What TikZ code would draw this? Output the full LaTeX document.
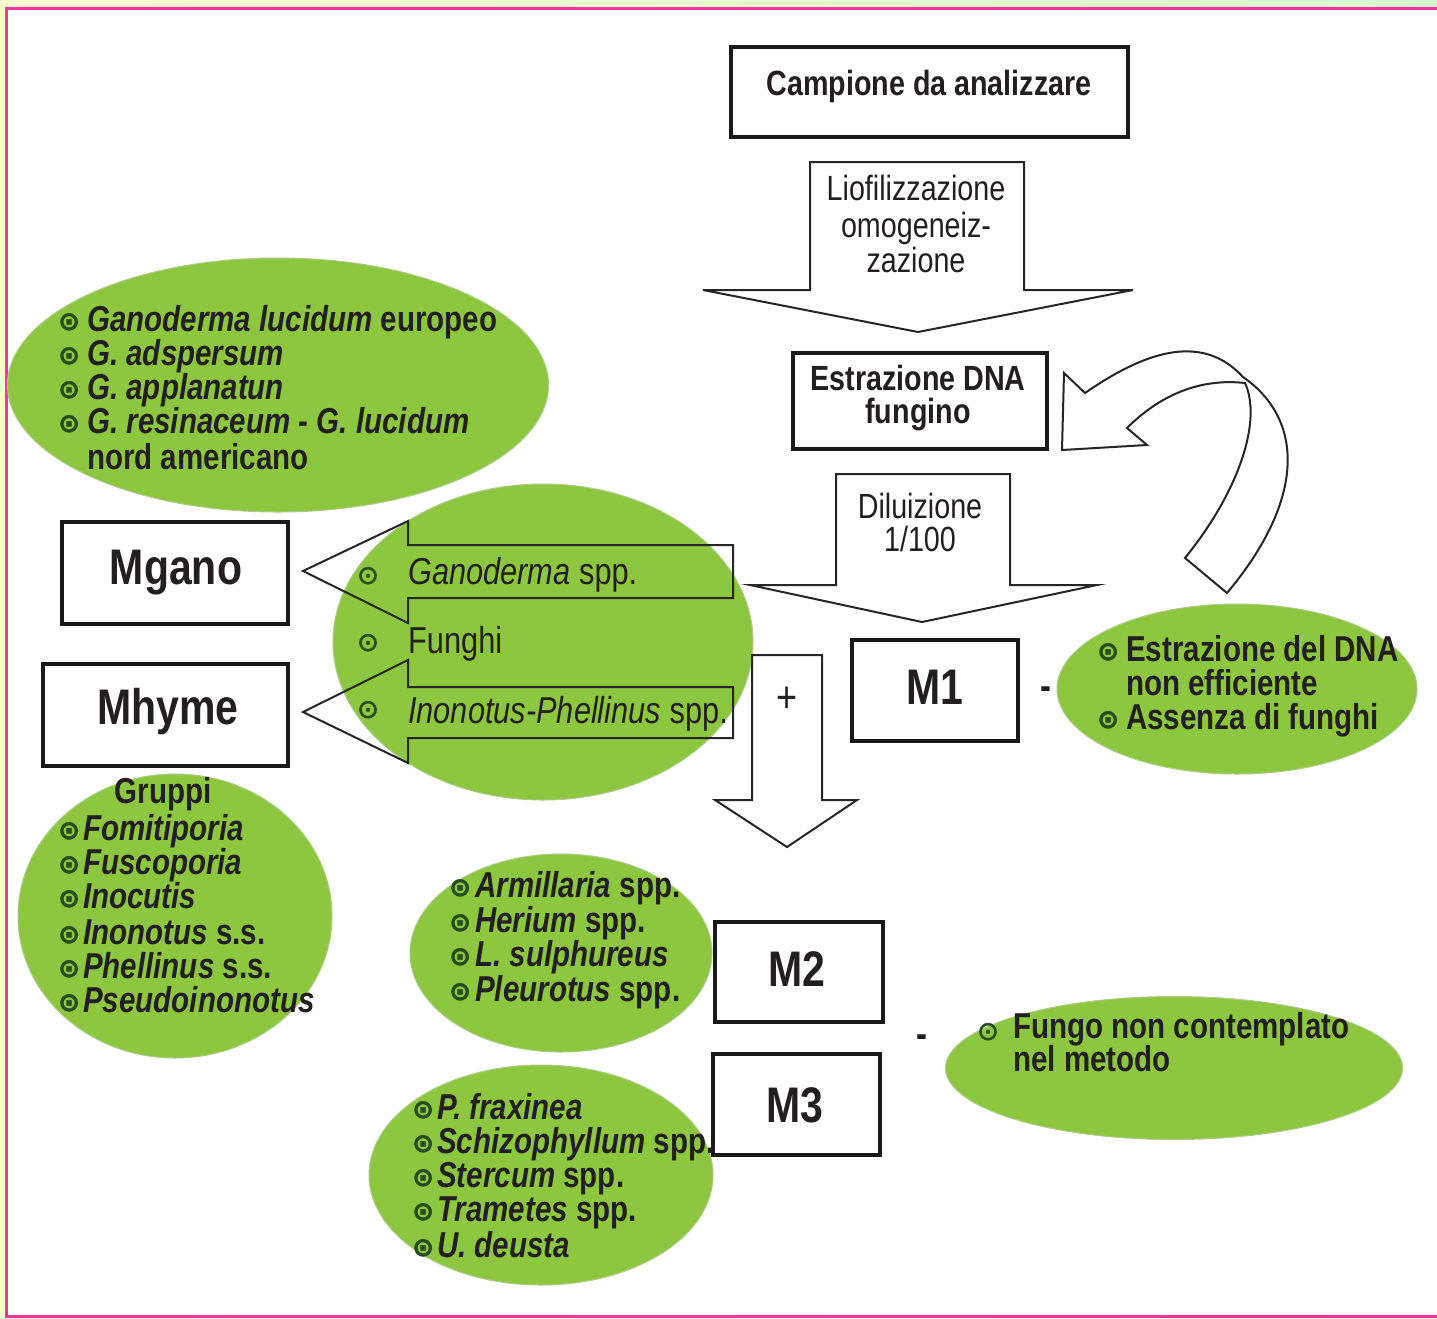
\documentclass[tikz,border=0pt]{standalone}
\usepackage{fontspec}
\setmainfont{Liberation Sans}[FakeStretch=0.82]
\newfontfamily\symfont{DejaVu Sans}[FakeBold=2.5]
\usetikzlibrary{shapes.geometric}
\definecolor{leaf}{RGB}{141,198,63}
\definecolor{bgr}{RGB}{38,78,28}
\definecolor{ink}{RGB}{35,31,32}
\definecolor{pinkline}{RGB}{255,51,153}
\definecolor{paleY}{RGB}{248,255,208}
\definecolor{paleG}{RGB}{214,255,206}
\newcommand\bulsym{\raisebox{1pt}{\symfont\fontsize{26}{26}\selectfont\color{bgr}⊙}}
\newcommand\bul[1]{\makebox[#1][l]{\hspace{-2pt}\bulsym}}
\begin{document}
\begin{tikzpicture}[x=1pt,y=-1pt,
  every node/.style={text=ink, inner sep=0pt},
  ln/.style={anchor=base west, font=\fontsize{36}{36}\selectfont\bfseries},
  lnr/.style={anchor=base west, font=\fontsize{37.5}{37.5}\selectfont},
  ctr/.style={anchor=base, font=\fontsize{35}{35}\selectfont},
  ctrb/.style={anchor=base, font=\fontsize{35}{35}\selectfont\bfseries},
  big/.style={anchor=base, font=\fontsize{50}{50}\selectfont\bfseries},
  boxn/.style={draw=black!90, line width=4pt, fill=white, rectangle},
  blob/.style={ellipse, fill=leaf, draw=leaf!85!black!60, line width=1pt},
  blk/.style={draw=black!85, line width=2pt, line join=miter},
]
\useasboundingbox (0,0) rectangle (1437,1318);
% background and frame
\shade[left color=paleY, right color=paleG] (0,0) rectangle (1437,1318);
\fill[white] (6,8) rectangle (1437,1316);
\draw[pinkline, line width=3pt] (1437,8) -- (6,8) -- (6,1316) -- (1437,1316);

% green ellipses
\node[blob, minimum width=541pt, minimum height=254pt] (e1) at (278,385) {};
\node[blob, minimum width=420pt, minimum height=316pt] (e2) at (543,642) {};
\node[blob, minimum width=314pt, minimum height=284pt] (e3) at (175,916) {};
\node[blob, minimum width=302pt, minimum height=198pt] (e4) at (561,953) {};
\node[blob, minimum width=344pt, minimum height=220pt] (e5) at (541,1175) {};
\node[blob, minimum width=360pt, minimum height=170pt] (e6) at (1237,689) {};
\node[blob, minimum width=457pt, minimum height=143pt] (e7) at (1174,1068) {};

% boxes
\node[boxn, minimum width=397pt, minimum height=90pt] (camp) at (929.5,92) {};
\node[ctrb] (campt) at (929,95) {Campione da analizzare};
\node[boxn, minimum width=254pt, minimum height=96pt] (estr) at (920,401) {};
\node[ctrb] (estrt1) at (918,390) {Estrazione DNA};
\node[ctrb] (estrt2) at (918,423) {fungino};
\node[boxn, minimum width=226pt, minimum height=102pt] (mgano) at (175,573) {};
\node[big] (mganot) at (176,584) {Mgano};
\node[boxn, minimum width=245pt, minimum height=102pt] (mhyme) at (165.5,715) {};
\node[big] (mhymet) at (168,724) {Mhyme};
\node[boxn, minimum width=166pt, minimum height=101pt] (m1) at (935,690.5) {};
\node[big] (m1t) at (935,704) {M1};
\node[boxn, minimum width=168pt, minimum height=100pt] (m2) at (799,972) {};
\node[big] (m2t) at (797,986) {M2};
\node[boxn, minimum width=167pt, minimum height=101pt] (m3) at (796.5,1104.5) {};
\node[big] (m3t) at (795,1122) {M3};

% block arrows
\draw[blk, fill=white] (810,162) -- (1024,162) -- (1024,290) -- (1133,290) -- (918,332) -- (703,290) -- (810,290) -- cycle;
\node[ctr] (lio1) at (916,200) {Liofilizzazione};
\node[ctr] (lio2) at (916,237) {omogeneiz-};
\node[ctr] (lio3) at (916,272) {zazione};
\draw[blk, fill=white] (836,474) -- (1010,474) -- (1010,585) -- (1097,585) -- (922,622) -- (750,585) -- (836,585) -- cycle;
\node[ctr] (dil1) at (920,518) {Diluizione};
\node[ctr] (dil2) at (920,551) {1/100};
\draw[blk, fill=white] (752,655) -- (822,655) -- (822,800) -- (857,800) -- (787,847) -- (715,800) -- (752,800) -- cycle;
\node[font=\fontsize{44}{44}\selectfont] (plus) at (787,700) {+};
\draw[blk] (733,545) -- (408,545) -- (408,521) -- (303,571) -- (408,623) -- (408,598) -- (733,598) -- cycle;
\draw[blk] (733,687) -- (408,687) -- (408,660) -- (303,712) -- (408,763) -- (408,738) -- (733,738) -- cycle;
% curved return arrow
\draw[blk] (1064,373) -- (1085,393) .. controls (1140,355) and (1200,330) .. (1243,377)
  .. controls (1305,420) and (1305,500) .. (1227,593) -- (1185,558)
  .. controls (1240,490) and (1262,420) .. (1245,383)
  .. controls (1200,378) and (1160,395) .. (1127,428) -- (1147,445) -- (1062,450) -- cycle;
\node[font=\fontsize{40}{40}\selectfont\bfseries] (minus1) at (1046,693) {-};
\node[font=\fontsize{40}{40}\selectfont\bfseries] (minus2) at (922,1041) {-};

% e1 text
\node[ln] (t11) at (60,331) {\bul{27pt}\textit{Ganoderma lucidum} europeo};
\node[ln] (t12) at (60,365) {\bul{27pt}\textit{G. adspersum}};
\node[ln] (t13) at (60,399) {\bul{27pt}\textit{G. applanatun}};
\node[ln] (t14) at (60,433) {\bul{27pt}\textit{G. resinaceum - G. lucidum}};
\node[ln] (t15) at (87,469) {nord americano};
% e2 text
\node (b21) at (368,576) {\bulsym};
\node (b22) at (368,643) {\bulsym};
\node (b23) at (368,710) {\bulsym};
\node[lnr] (t21) at (408,584) {\textit{Ganoderma} spp.};
\node[lnr] (t22) at (408,653) {Funghi};
\node[lnr] (t23) at (408,723) {\textit{Inonotus-Phellinus} spp.};
% e3 text
\node[ctrb, font=\fontsize{36}{36}\selectfont\bfseries] (t30) at (163,803) {Gruppi};
\node[ln] (t31) at (60,840) {\bul{23pt}\textit{Fomitiporia}};
\node[ln] (t32) at (60,874) {\bul{23pt}\textit{Fuscoporia}};
\node[ln] (t33) at (60,908) {\bul{23pt}\textit{Inocutis}};
\node[ln] (t34) at (60,944) {\bul{23pt}\textit{Inonotus} s.s.};
\node[ln] (t35) at (60,978) {\bul{23pt}\textit{Phellinus} s.s.};
\node[ln] (t36) at (60,1012) {\bul{23pt}\textit{Pseudoinonotus}};
% e4 text
\node[ln] (t41) at (451,897) {\bul{24pt}\textit{Armillaria} spp.};
\node[ln] (t42) at (451,932) {\bul{24pt}\textit{Herium} spp.};
\node[ln] (t43) at (451,966) {\bul{24pt}\textit{L. sulphureus}};
\node[ln] (t44) at (451,1001) {\bul{24pt}\textit{Pleurotus} spp.};
% e5 text
\node[ln] (t51) at (414,1119) {\bul{23pt}\textit{P. fraxinea}};
\node[ln] (t52) at (414,1153) {\bul{23pt}\textit{Schizophyllum} spp.};
\node[ln] (t53) at (414,1187) {\bul{23pt}\textit{Stercum} spp.};
\node[ln] (t54) at (414,1221) {\bul{23pt}\textit{Trametes} spp.};
\node[ln] (t55) at (414,1257) {\bul{23pt}\textit{U. deusta}};
% e6 text
\node[ln] (t61) at (1099,661) {\bul{27pt}Estrazione del DNA};
\node[ln] (t62) at (1126,695) {non efficiente};
\node[ln] (t63) at (1099,729) {\bul{27pt}Assenza di funghi};
% e7 text
\node (b71) at (988,1032) {\bulsym};
\node[ln] (t71) at (1013,1038) {Fungo non contemplato};
\node[ln] (t72) at (1013,1071) {nel metodo};
\end{tikzpicture}
\end{document}
